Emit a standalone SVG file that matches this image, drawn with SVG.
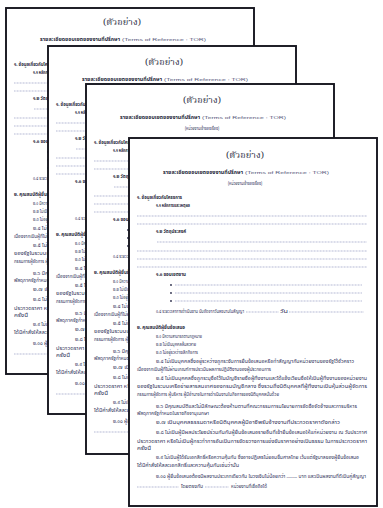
<svg xmlns="http://www.w3.org/2000/svg" xmlns:xlink="http://www.w3.org/1999/xlink" width="383" height="508" viewBox="0 0 383 508">
<style>
.bg{fill:#ffffff}
.pg{fill:#ffffff;stroke:#16161f;stroke-width:1.9}
.t{font-family:"Noto Sans Thai","Noto Sans","DejaVu Sans",sans-serif;font-size:4.5px;fill:#30325a}
.b{font-weight:bold;fill:#1e1f38}
.tt{font-family:"Noto Serif Thai","Noto Sans Thai","DejaVu Serif",serif;font-size:9px;fill:#33354a}
.en{font-family:"Liberation Sans",sans-serif;font-size:4.4px;fill:#55577a}
.d{stroke:#8a90bc;stroke-width:0.7;stroke-dasharray:0.9 0.6;fill:none}
</style>
<defs>
<g id="doc">
<text class="tt" x="116" y="20" text-anchor="middle" textLength="38" lengthAdjust="spacingAndGlyphs">(ตัวอย่าง)</text>
<text class="t b" x="34" y="36" textLength="80" lengthAdjust="spacingAndGlyphs">รายละเอียดขอบเขตของงานที่ปรึกษา</text>
<text class="en" x="116" y="36" textLength="84" lengthAdjust="spacingAndGlyphs">(Terms of Reference : TOR)</text>
<text class="t" x="116" y="47" text-anchor="middle" textLength="34" lengthAdjust="spacingAndGlyphs">(หน่วยงานเจ้าของเรื่อง)</text>

<text class="t b" x="8" y="61" textLength="45" lengthAdjust="spacingAndGlyphs">๑. ข้อมูลเกี่ยวกับโครงการ</text>
<text class="t b" x="27" y="69" textLength="34" lengthAdjust="spacingAndGlyphs">๑.๑ หลักการและเหตุผล</text>
<path class="d" d="M8 78H238M8 86H238"/>
<text class="t b" x="27" y="95" textLength="30" lengthAdjust="spacingAndGlyphs">๑.๒ วัตถุประสงค์</text>
<path class="d" d="M28 104H238M8 113H238M8 121H238M8 129H238"/>
<text class="t b" x="27" y="138" textLength="30" lengthAdjust="spacingAndGlyphs">๑.๓ ขอบเขตงาน</text>
<circle cx="42" cy="147" r="0.9" fill="#2b2c4a"/>
<circle cx="42" cy="155" r="0.9" fill="#2b2c4a"/>
<circle cx="42" cy="163" r="0.9" fill="#2b2c4a"/>
<path class="d" d="M46 147H233M46 155H233M46 163H233"/>
<text class="t" x="27" y="175" textLength="88" lengthAdjust="spacingAndGlyphs">๑.๔ ระยะเวลาการดำเนินงาน นับถัดจากวันลงนามในสัญญา</text>
<path class="d" d="M117 174H150M160 174H235"/>
<text class="t" x="151" y="175" textLength="8" lengthAdjust="spacingAndGlyphs">วัน</text>

<text class="t b" x="8" y="191" textLength="48" lengthAdjust="spacingAndGlyphs">๒. คุณสมบัติผู้ยื่นข้อเสนอ</text>
<text class="t" x="27" y="200" textLength="46" lengthAdjust="spacingAndGlyphs">๒.๑ มีความสามารถตามกฎหมาย</text>
<text class="t" x="27" y="208" textLength="40" lengthAdjust="spacingAndGlyphs">๒.๒ ไม่เป็นบุคคลล้มละลาย</text>
<text class="t" x="27" y="216" textLength="42" lengthAdjust="spacingAndGlyphs">๒.๓ ไม่อยู่ระหว่างเลิกกิจการ</text>
<text class="t" x="27" y="225" textLength="198" lengthAdjust="spacingAndGlyphs">๒.๔ ไม่เป็นบุคคลซึ่งอยู่ระหว่างถูกระงับการยื่นข้อเสนอหรือทำสัญญากับหน่วยงานของรัฐไว้ชั่วคราว</text>
<text class="t" x="8" y="233" textLength="134" lengthAdjust="spacingAndGlyphs">เนื่องจากเป็นผู้ที่ไม่ผ่านเกณฑ์การประเมินผลการปฏิบัติงานของผู้ประกอบการ</text>
<text class="t" x="27" y="242" textLength="211" lengthAdjust="spacingAndGlyphs">๒.๕ ไม่เป็นบุคคลซึ่งถูกระบุชื่อไว้ในบัญชีรายชื่อผู้ทิ้งงานและได้แจ้งเวียนชื่อให้เป็นผู้ทิ้งงานของหน่วยงาน</text>
<text class="t" x="8" y="250" textLength="230" lengthAdjust="spacingAndGlyphs">ของรัฐในระบบเครือข่ายสารสนเทศของกรมบัญชีกลาง ซึ่งรวมถึงนิติบุคคลที่ผู้ทิ้งงานเป็นหุ้นส่วนผู้จัดการ</text>
<text class="t" x="8" y="258" textLength="142" lengthAdjust="spacingAndGlyphs">กรรมการผู้จัดการ ผู้บริหาร ผู้มีอำนาจในการดำเนินงานในกิจการของนิติบุคคลนั้นด้วย</text>
<text class="t" x="27" y="270" textLength="201" lengthAdjust="spacingAndGlyphs">๒.๖ มีคุณสมบัติและไม่มีลักษณะต้องห้ามตามที่คณะกรรมการนโยบายการจัดซื้อจัดจ้างและการบริหาร</text>
<text class="t" x="8" y="277" textLength="72" lengthAdjust="spacingAndGlyphs">พัสดุภาครัฐกำหนดในราชกิจจานุเบกษา</text>
<text class="t" x="27" y="286" textLength="184" lengthAdjust="spacingAndGlyphs">๒.๗ เป็นบุคคลธรรมดาหรือนิติบุคคลผู้มีอาชีพรับจ้างงานที่ประกวดราคาดังกล่าว</text>
<text class="t" x="27" y="296" textLength="211" lengthAdjust="spacingAndGlyphs">๒.๘ ไม่เป็นผู้มีผลประโยชน์ร่วมกันกับผู้ยื่นข้อเสนอรายอื่นที่เข้ายื่นข้อเสนอให้แก่หน่วยงาน ณ วันประกาศ</text>
<text class="t" x="8" y="305" textLength="230" lengthAdjust="spacingAndGlyphs">ประกวดราคา หรือไม่เป็นผู้กระทำการอันเป็นการขัดขวางการแข่งขันราคาอย่างเป็นธรรม ในการประกวดราคา</text>
<text class="t" x="8" y="312" textLength="14" lengthAdjust="spacingAndGlyphs">ครั้งนี้</text>
<text class="t" x="27" y="321" textLength="203" lengthAdjust="spacingAndGlyphs">๒.๙ ไม่เป็นผู้ได้รับเอกสิทธิ์หรือความคุ้มกัน ซึ่งอาจปฏิเสธไม่ยอมขึ้นศาลไทย เว้นแต่รัฐบาลของผู้ยื่นข้อเสนอ</text>
<text class="t" x="8" y="329" textLength="102" lengthAdjust="spacingAndGlyphs">ได้มีคำสั่งให้สละเอกสิทธิ์และความคุ้มกันเช่นว่านั้น</text>
<text class="t" x="27" y="340" textLength="210" lengthAdjust="spacingAndGlyphs">๒.๑๐ ผู้ยื่นข้อเสนอต้องมีผลงานประเภทเดียวกัน ในวงเงินไม่น้อยกว่า ........ บาท และเป็นผลงานที่ดีเป็นคู่สัญญา</text>
<path class="d" d="M8 349H50M76 349H100"/>
<text class="t" x="52" y="350" textLength="22" lengthAdjust="spacingAndGlyphs">โดยตรงกับ</text>
<text class="t" x="102" y="350" textLength="36" lengthAdjust="spacingAndGlyphs">หน่วยงานที่เชื่อถือได้</text>
</g>
</defs>
<rect class="bg" x="0" y="0" width="383" height="508"/>
<g id="page1">
<rect class="pg" x="6" y="8" width="248" height="366"/>
<use xlink:href="#doc" transform="translate(6,5)"/>
</g>
<g id="page2">
<rect class="pg" x="48" y="46" width="248" height="368"/>
<use xlink:href="#doc" transform="translate(48,45)"/>
</g>
<g id="page3">
<rect class="pg" x="86" y="84" width="248" height="370"/>
<use xlink:href="#doc" transform="translate(86,83)"/>
</g>
<g id="page4">
<rect class="pg" x="129" y="138" width="248" height="368"/>
<use xlink:href="#doc" transform="translate(129,138)"/>
</g>
</svg>
